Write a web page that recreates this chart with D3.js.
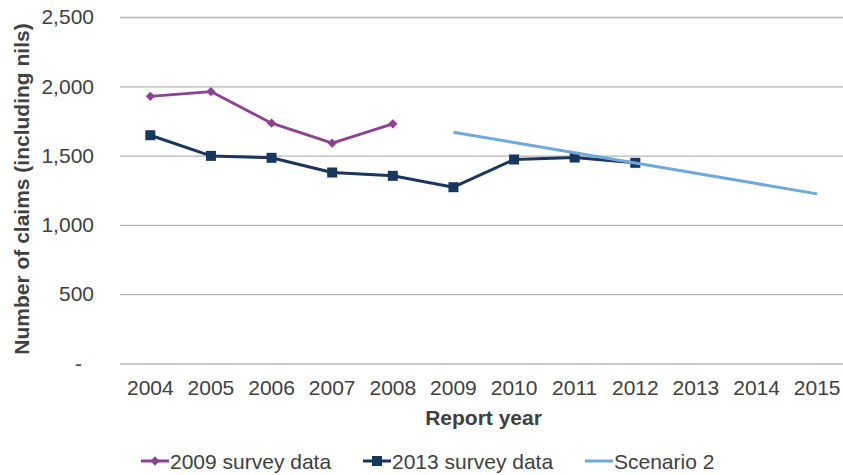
<!DOCTYPE html>
<html>
<head>
<meta charset="utf-8">
<script src="https://cdn.jsdelivr.net/npm/d3@7"></script>
<style>
  html, body { margin: 0; padding: 0; background: #fff; }
  svg { display: block; }
  text { font-family: "Liberation Sans", Arial, sans-serif; fill: #404040; }
</style>
</head>
<body>
<svg id="chart" width="843" height="475"></svg>
<script>
const years = ["2004","2005","2006","2007","2008","2009","2010","2011","2012","2013","2014","2015"];
const survey2009 = [1928, 1962, 1734, 1590, 1729, null, null, null, null, null, null, null];
const survey2013 = [1647, 1498, 1484, 1378, 1354, 1272, 1472, 1486, 1448, null, null, null];
const scenario2  = [null, null, null, null, null, 1669, 1595, 1521, 1446, 1372, 1298, 1224];
const yTicks = [0, 500, 1000, 1500, 2000, 2500];
const seriesNames = ["2009 survey data", "2013 survey data", "Scenario 2"];

(function () {
const colors = ["#8b4293", "#17375e", "#6fa8dc"];
const svg = d3.select("#chart");
const pLeft = 120, pRight = 847.5, pTop = 17, pBottom = 363.5;

const x = d3.scaleBand().domain(years).range([pLeft, pRight]).padding(0);
const cx = d => x(d) + x.bandwidth() / 2;
const y = d3.scaleLinear().domain([0, 2500]).range([pBottom, pTop]);

// gridlines
const grid = svg.append("g").attr("transform", `translate(${pLeft},0)`)
  .call(d3.axisLeft(y).tickValues(yTicks).tickSize(-(843 - pLeft)).tickFormat(""));
grid.select(".domain").remove();
grid.selectAll("line").attr("stroke", "#b4b4b4").attr("stroke-width", 1.3);

// y labels
const yAxis = svg.append("g").attr("transform", `translate(94,0)`)
  .call(d3.axisLeft(y).tickValues(yTicks).tickSize(0).tickPadding(0)
    .tickFormat(d => d === 0 ? "-" : d3.format(",")(d)));
yAxis.select(".domain").remove();
yAxis.selectAll("text").attr("font-size", 21).attr("fill", "#404040")
  .attr("font-family", "'Liberation Sans', Arial, sans-serif")
  .attr("dx", d => d === 0 ? -12 : 0);

// x labels
const xAxis = svg.append("g").attr("transform", `translate(0,${pBottom})`)
  .call(d3.axisBottom(x).tickSize(0).tickPadding(17));
xAxis.select(".domain").remove();
xAxis.selectAll("text").attr("font-size", 21).attr("fill", "#404040")
  .attr("font-family", "'Liberation Sans', Arial, sans-serif");

// axis titles
svg.append("text").attr("x", (pLeft + 847) / 2).attr("y", 425)
  .attr("text-anchor", "middle").attr("font-size", 21).attr("font-weight", "bold")
  .text("Report year");
svg.append("text").attr("transform", "translate(29,189) rotate(-90)")
  .attr("text-anchor", "middle").attr("font-size", 21).attr("font-weight", "bold")
  .text("Number of claims (including nils)");

const allSeries = [survey2009, survey2013, scenario2];
const line = d3.line().defined(d => d.v !== null).x(d => cx(d.year)).y(d => y(d.v));
const widths = [2.8, 3, 3];

allSeries.forEach((vals, i) => {
  const pts = years.map((yr, j) => ({ year: yr, v: vals[j] }));
  svg.append("path").datum(pts).attr("d", line)
    .attr("fill", "none").attr("stroke", colors[i]).attr("stroke-width", widths[i])
    .attr("stroke-linejoin", "round");
  const valid = pts.filter(p => p.v !== null);
  if (i === 0) {
    svg.selectAll(null).data(valid).enter().append("path")
      .attr("d", d3.symbol(d3.symbolDiamond2, 55)())
      .attr("transform", d => `translate(${cx(d.year)},${y(d.v)})`)
      .attr("fill", colors[0]);
  } else if (i === 1) {
    svg.selectAll(null).data(valid).enter().append("rect")
      .attr("x", d => cx(d.year) - 5).attr("y", d => y(d.v) - 5)
      .attr("width", 10).attr("height", 10).attr("fill", colors[1]);
  }
});

// legend
const legendX = [141, 363, 585];
const ly = 461;
seriesNames.forEach((name, i) => {
  const g = svg.append("g");
  g.append("line").attr("x1", legendX[i]).attr("x2", legendX[i] + 28)
    .attr("y1", ly).attr("y2", ly).attr("stroke", colors[i]).attr("stroke-width", 3);
  if (i === 0) {
    g.append("path").attr("d", d3.symbol(d3.symbolDiamond2, 55)())
      .attr("transform", `translate(${legendX[i] + 14},${ly})`).attr("fill", colors[0]);
  } else if (i === 1) {
    g.append("rect").attr("x", legendX[i] + 9).attr("y", ly - 5)
      .attr("width", 10).attr("height", 10).attr("fill", colors[1]);
  }
  g.append("text").attr("x", legendX[i] + 29).attr("y", ly + 7.5)
    .attr("font-size", 21).text(name);
});
})();
</script>
</body>
</html>
